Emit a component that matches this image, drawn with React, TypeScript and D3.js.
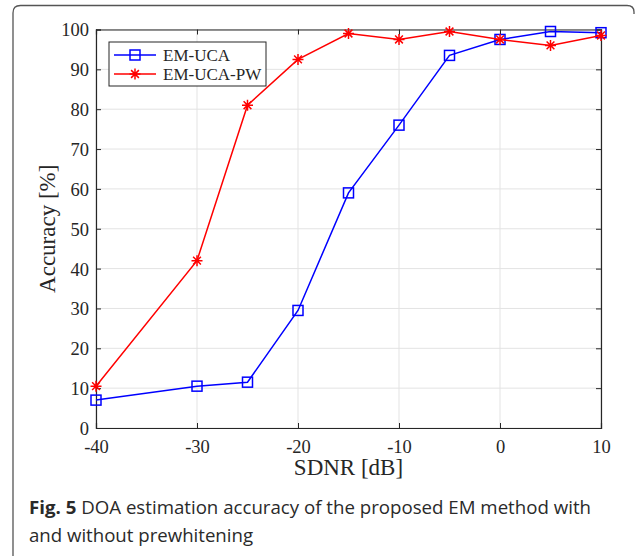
import { useEffect, useRef } from "react";
import * as d3 from "d3";

// SDNR values in dB
const sdnr = [-40, -30, -25, -20, -15, -10, -5, 0, 5, 10];
// accuracy in %
const emUca = [7, 10.5, 11.5, 29.5, 59, 76, 93.5, 97.5, 99.5, 99.2];
const emUcaPw = [10.5, 42, 81, 92.5, 99, 97.5, 99.5, 97.5, 96, 98.5];
const xTicks = [-40, -30, -20, -10, 0, 10];
const yTicks = [0, 10, 20, 30, 40, 50, 60, 70, 80, 90, 100];

const W = 635;
const H = 558;

const App = () => {
  const ref = useRef<SVGSVGElement>(null);

  useEffect(() => {
    const svg = d3.select(ref.current);
    svg.selectAll("*").remove();

    const left = 96, right = 601, top = 29.5, bottom = 428;
    const x = d3.scaleLinear().domain([-40, 10]).range([left, right]);
    const y = d3.scaleLinear().domain([0, 100]).range([bottom, top]);
    const axisColor = "#262626";
    const serif = "'Liberation Serif', 'Times New Roman', serif";

    // figure frame (open at the bottom)
    svg
      .append("path")
      .attr("d", "M13,556 L13,13 Q13,5.5 20.5,5.5 L627,5.5 Q634,5.5 634,12 L634,14")
      .attr("fill", "none")
      .attr("stroke", "#555")
      .attr("stroke-width", 1.3);

    // grid
    const grid = svg.append("g").attr("stroke", "#e3e3e3").attr("stroke-width", 1);
    grid
      .selectAll("line.gx")
      .data(xTicks)
      .join("line")
      .attr("x1", (d) => x(d))
      .attr("x2", (d) => x(d))
      .attr("y1", top)
      .attr("y2", bottom);
    grid
      .selectAll("line.gy")
      .data(yTicks)
      .join("line")
      .attr("class", "gy")
      .attr("x1", left)
      .attr("x2", right)
      .attr("y1", (d) => y(d))
      .attr("y2", (d) => y(d));

    // axes with inward ticks on all four sides
    const tl = 5;
    const fmt = (d: d3.NumberValue) => String(d);
    const bottomAxis = svg
      .append("g")
      .attr("transform", `translate(0,${bottom})`)
      .call(d3.axisBottom(x).tickValues(xTicks).tickSize(-tl).tickPadding(12).tickFormat(fmt));
    const topAxis = svg
      .append("g")
      .attr("transform", `translate(0,${top})`)
      .call(d3.axisTop(x).tickValues(xTicks).tickSize(-tl).tickFormat(() => ""));
    const leftAxis = svg
      .append("g")
      .attr("transform", `translate(${left},0)`)
      .call(d3.axisLeft(y).tickValues(yTicks).tickSize(-tl).tickPadding(7).tickFormat(fmt));
    const rightAxis = svg
      .append("g")
      .attr("transform", `translate(${right},0)`)
      .call(d3.axisRight(y).tickValues(yTicks).tickSize(-tl).tickFormat(() => ""));

    [bottomAxis, topAxis, leftAxis, rightAxis].forEach((g) => {
      g.attr("font-family", serif).attr("font-size", 18.5);
      g.select(".domain").attr("stroke", axisColor).attr("stroke-width", 1.2);
      g.selectAll(".tick line").attr("stroke", axisColor).attr("stroke-width", 1);
      g.selectAll(".tick text").attr("fill", "#262626");
    });
    leftAxis.selectAll(".tick text").attr("dy", "0.35em");

    // axis labels
    svg
      .append("text")
      .attr("x", (left + right) / 2)
      .attr("y", 475)
      .attr("text-anchor", "middle")
      .attr("font-family", serif)
      .attr("font-size", 23)
      .attr("fill", "#262626")
      .text("SDNR [dB]");
    svg
      .append("text")
      .attr("transform", `translate(55,${(top + bottom) / 2}) rotate(-90)`)
      .attr("text-anchor", "middle")
      .attr("font-family", serif)
      .attr("font-size", 23)
      .attr("fill", "#262626")
      .text("Accuracy [%]");

    const line = d3
      .line<number>()
      .x((_, i) => x(sdnr[i]))
      .y((d) => y(d));

    // EM-UCA (blue squares)
    svg
      .append("path")
      .datum(emUca)
      .attr("d", line)
      .attr("fill", "none")
      .attr("stroke", "#0000ff")
      .attr("stroke-width", 1.5);
    svg
      .append("g")
      .selectAll("rect")
      .data(emUca)
      .join("rect")
      .attr("x", (_, i) => x(sdnr[i]) - 5)
      .attr("y", (d) => y(d) - 5)
      .attr("width", 10)
      .attr("height", 10)
      .attr("fill", "none")
      .attr("stroke", "#0000ff")
      .attr("stroke-width", 1.5);

    // EM-UCA-PW (red asterisks)
    const star = (cx: number, cy: number, r: number) => {
      let d = "";
      for (let k = 0; k < 4; k++) {
        const a = (k * Math.PI) / 4;
        const dx = r * Math.cos(a), dy = r * Math.sin(a);
        d += `M${cx - dx},${cy - dy}L${cx + dx},${cy + dy}`;
      }
      return d;
    };
    svg
      .append("path")
      .datum(emUcaPw)
      .attr("d", line)
      .attr("fill", "none")
      .attr("stroke", "#ff0000")
      .attr("stroke-width", 1.5);
    svg
      .append("g")
      .selectAll("path")
      .data(emUcaPw)
      .join("path")
      .attr("d", (d, i) => star(x(sdnr[i]), y(d), 5.5))
      .attr("stroke", "#ff0000")
      .attr("stroke-width", 1.5);

    // legend
    const lg = svg.append("g");
    lg.append("rect")
      .attr("x", 109)
      .attr("y", 42)
      .attr("width", 157)
      .attr("height", 44)
      .attr("fill", "#fff")
      .attr("stroke", axisColor)
      .attr("stroke-width", 1);
    const items = [
      { name: "EM-UCA", color: "#0000ff", marker: "square" },
      { name: "EM-UCA-PW", color: "#ff0000", marker: "star" },
    ];
    items.forEach((it, i) => {
      const ly = 55 + i * 19;
      lg.append("line")
        .attr("x1", 114)
        .attr("x2", 156)
        .attr("y1", ly)
        .attr("y2", ly)
        .attr("stroke", it.color)
        .attr("stroke-width", 1.5);
      if (it.marker === "square") {
        lg.append("rect")
          .attr("x", 130)
          .attr("y", ly - 5)
          .attr("width", 10)
          .attr("height", 10)
          .attr("fill", "none")
          .attr("stroke", it.color)
          .attr("stroke-width", 1.5);
      } else {
        lg.append("path")
          .attr("d", star(135, ly, 5.5))
          .attr("stroke", it.color)
          .attr("stroke-width", 1.5);
      }
      lg.append("text")
        .attr("x", 163)
        .attr("y", ly)
        .attr("dy", "0.35em")
        .attr("font-family", serif)
        .attr("font-size", 17)
        .attr("fill", "#262626")
        .text(it.name);
    });

    // caption
    const cap = svg
      .append("text")
      .attr("x", 29)
      .attr("y", 514)
      .attr("font-family", "'Open Sans', 'Noto Sans', sans-serif")
      .attr("font-size", 18.5)
      .attr("fill", "#2a2a2a")
      .attr("textLength", 562)
      .attr("lengthAdjust", "spacingAndGlyphs");
    cap.append("tspan").attr("font-weight", "bold").text("Fig. 5");
    cap.append("tspan").text(" DOA estimation accuracy of the proposed EM method with");
    svg
      .append("text")
      .attr("x", 29)
      .attr("y", 542)
      .attr("font-family", "'Open Sans', 'Noto Sans', sans-serif")
      .attr("font-size", 18.5)
      .attr("fill", "#2a2a2a")
      .attr("textLength", 224)
      .attr("lengthAdjust", "spacingAndGlyphs")
      .text("and without prewhitening");
  }, []);

  return (
    <svg
      ref={ref}
      width={W}
      height={H}
      viewBox={`0 0 ${W} ${H}`}
      style={{ position: "absolute", left: 0, top: 0, background: "#fff" }}
    />
  );
};

export default App;
